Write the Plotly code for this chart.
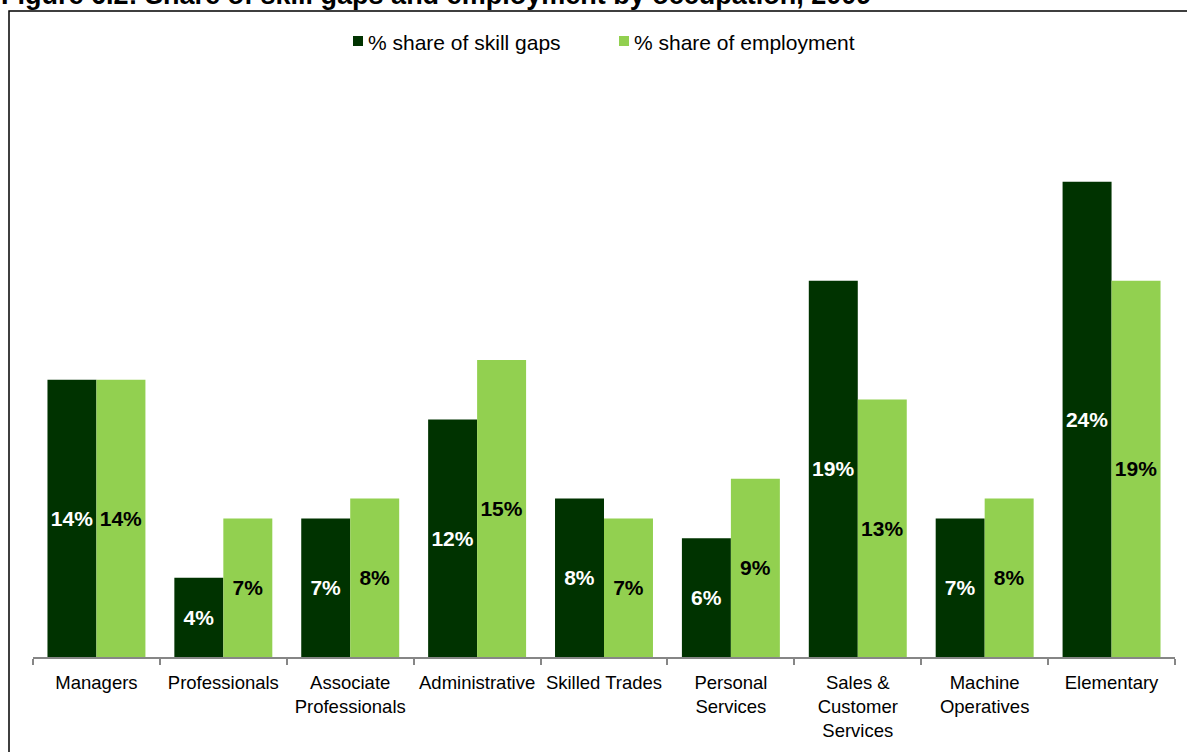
import plotly.graph_objects as go

occupations = ["Managers", "Professionals", "Associate<br>Professionals", "Administrative",
               "Skilled Trades", "Personal<br>Services", "Sales &<br>Customer<br>Services",
               "Machine<br>Operatives", "Elementary"]
skill_gaps = [14, 4, 7, 12, 8, 6, 19, 7, 24]
employment = [14, 7, 8, 15, 7, 9, 13, 8, 19]
series_names = ["% share of skill gaps", "% share of employment"]
series_colors = ["#003300", "#92D050"]

W, H = 1187, 752
ml, mr, mt, mb = 33, 12, 63, 95
FONT = "Liberation Sans, Arial"

fig = go.Figure()
for vals, name, color, txtcol in zip([skill_gaps, employment], series_names,
                                     series_colors, ["white", "black"]):
    fig.add_trace(go.Bar(
        x=occupations, y=vals, name=name,
        marker=dict(color=color, line=dict(width=0)),
        texttemplate="%{y}%", textposition="inside", insidetextanchor="middle",
        textangle=0, constraintext="none",
        textfont=dict(family=FONT, size=21, color=txtcol, weight="bold"),
        showlegend=False,
    ))

ph = H - mt - mb
pw = W - ml - mr
def py(pix):
    return (H - mb - pix) / ph
def px(pix):
    return (pix - ml) / pw

fig.update_layout(
    width=W, height=H,
    margin=dict(l=ml, r=mr, t=mt, b=mb, pad=0),
    paper_bgcolor="white", plot_bgcolor="white",
    barmode="group", bargap=0.228, bargroupgap=0,
    font=dict(family=FONT, size=18, color="black"),
    xaxis=dict(showline=True, linecolor="#868686", linewidth=2,
               ticks="outside", tickson="boundaries", ticklen=6, tickwidth=2,
               tickcolor="#868686", tickfont=dict(size=18.5, color="black"),
               ticklabelstandoff=8, showgrid=False, zeroline=False),
    yaxis=dict(range=[0, 30], visible=False, showgrid=False, zeroline=False),
)

# legend drawn as swatches with text beside them
legend_x = [353, 619]
for lx, name, color in zip(legend_x, series_names, series_colors):
    fig.add_shape(type="rect", xref="paper", yref="paper",
                  x0=px(lx), x1=px(lx + 10), y0=py(46), y1=py(36),
                  line=dict(width=0), fillcolor=color)
    fig.add_annotation(text=name, xref="paper", yref="paper",
                       x=px(lx + 13), y=py(42), xanchor="left", yanchor="middle",
                       showarrow=False, font=dict(size=21, color="black"))

# outer chart frame
fig.add_shape(type="rect", xref="paper", yref="paper",
              x0=px(9), x1=px(1200), y0=py(770), y1=py(11),
              line=dict(color="black", width=1.5), fillcolor="rgba(0,0,0,0)", layer="below")

# figure heading, partly above the page edge
fig.add_annotation(text="<b>Figure 6.2: Share of skill gaps and employment by occupation, 2009</b>",
                   xref="paper", yref="paper", x=px(-1), y=py(12), xanchor="left", yanchor="bottom",
                   showarrow=False, font=dict(size=27, color="black"))

fig.write_html("out.html")
